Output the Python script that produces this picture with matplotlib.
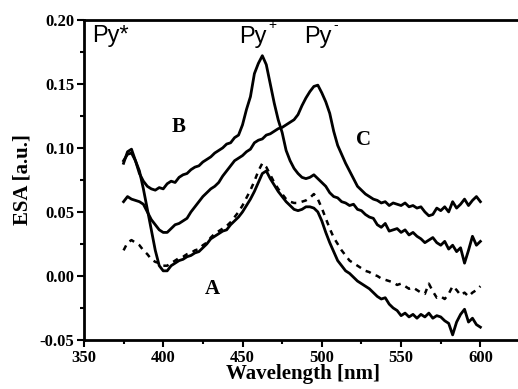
import numpy as np
import matplotlib
matplotlib.use("Agg")
import matplotlib.pyplot as plt
from matplotlib.ticker import MultipleLocator

wavelength = np.linspace(375, 600, 91)

esa_B = [0.088, 0.097, 0.099, 0.090, 0.080, 0.074, 0.070, 0.068, 0.067, 0.069,
         0.068, 0.072, 0.074, 0.073, 0.077, 0.079, 0.080, 0.083, 0.085, 0.086,
         0.089, 0.091, 0.093, 0.096, 0.098, 0.100, 0.103, 0.104, 0.108, 0.110,
         0.118, 0.130, 0.140, 0.158, 0.166, 0.172, 0.165, 0.150, 0.135, 0.122,
         0.112, 0.098, 0.090, 0.084, 0.080, 0.077, 0.076, 0.077, 0.079, 0.076,
         0.073, 0.070, 0.065, 0.062, 0.061, 0.058, 0.057, 0.055, 0.056, 0.052,
         0.051, 0.048, 0.046, 0.045, 0.040, 0.038, 0.041, 0.035, 0.036, 0.037,
         0.034, 0.036, 0.032, 0.034, 0.031, 0.029, 0.026, 0.028, 0.030, 0.026,
         0.024, 0.027, 0.021, 0.024, 0.019, 0.022, 0.010, 0.020, 0.031, 0.024,
         0.027]

esa_C = [0.058, 0.062, 0.060, 0.059, 0.058, 0.056, 0.050, 0.044, 0.040, 0.036,
         0.034, 0.034, 0.037, 0.040, 0.041, 0.043, 0.045, 0.050, 0.054, 0.058,
         0.062, 0.065, 0.068, 0.070, 0.073, 0.078, 0.082, 0.086, 0.090, 0.092,
         0.094, 0.097, 0.099, 0.104, 0.106, 0.107, 0.110, 0.111, 0.113, 0.115,
         0.116, 0.118, 0.120, 0.122, 0.126, 0.133, 0.139, 0.144, 0.148, 0.149,
         0.143, 0.136, 0.127, 0.113, 0.102, 0.095, 0.088, 0.082, 0.076, 0.070,
         0.067, 0.064, 0.062, 0.060, 0.059, 0.057, 0.058, 0.055, 0.057, 0.056,
         0.055, 0.057, 0.054, 0.055, 0.053, 0.054, 0.050, 0.047, 0.048, 0.053,
         0.051, 0.054, 0.050, 0.058, 0.053, 0.056, 0.060, 0.055, 0.059, 0.062,
         0.058]

esa_A = [0.090, 0.095, 0.096, 0.090, 0.082, 0.068, 0.052, 0.036, 0.020, 0.008,
         0.004, 0.004, 0.008, 0.010, 0.012, 0.013, 0.015, 0.016, 0.018, 0.019,
         0.022, 0.025, 0.029, 0.031, 0.033, 0.035, 0.036, 0.040, 0.043, 0.046,
         0.050, 0.055, 0.060, 0.066, 0.073, 0.080, 0.082, 0.076, 0.071, 0.066,
         0.062, 0.058, 0.055, 0.052, 0.051, 0.052, 0.054, 0.054, 0.053, 0.050,
         0.043, 0.034, 0.026, 0.019, 0.012, 0.008, 0.004, 0.002, -0.001, -0.004,
         -0.006, -0.008, -0.010, -0.013, -0.016, -0.018, -0.017, -0.022, -0.025, -0.027,
         -0.031, -0.029, -0.032, -0.030, -0.033, -0.030, -0.032, -0.029, -0.033, -0.031,
         -0.032, -0.035, -0.037, -0.046, -0.036, -0.030, -0.026, -0.036, -0.033, -0.038,
         -0.040]

esa_dashed = [0.020, 0.026, 0.028, 0.026, 0.024, 0.020, 0.017, 0.013, 0.011, 0.010,
              0.008, 0.008, 0.010, 0.012, 0.014, 0.015, 0.017, 0.018, 0.020, 0.021,
              0.024, 0.026, 0.030, 0.033, 0.035, 0.037, 0.039, 0.042, 0.046, 0.050,
              0.055, 0.061, 0.067, 0.074, 0.082, 0.088, 0.085, 0.079, 0.073, 0.068,
              0.064, 0.060, 0.058, 0.057, 0.057, 0.058, 0.059, 0.061, 0.064, 0.060,
              0.053, 0.045, 0.037, 0.030, 0.025, 0.020, 0.016, 0.012, 0.010, 0.008,
              0.006, 0.004, 0.003, 0.001, 0.000, -0.002, -0.003, -0.004, -0.005, -0.007,
              -0.006, -0.008, -0.010, -0.009, -0.011, -0.013, -0.014, -0.006, -0.012, -0.017,
              -0.016, -0.018, -0.014, -0.008, -0.011, -0.015, -0.013, -0.016, -0.013, -0.011,
              -0.008]

serif = ["Liberation Serif", "DejaVu Serif"]
sans = ["Liberation Sans", "DejaVu Sans"]

fig = plt.figure(figsize=(5.18, 3.89), dpi=100)
ax = fig.add_axes([0.162, 0.126, 0.845, 0.823])

ax.plot(wavelength, esa_B, color="black", lw=2.0)
ax.plot(wavelength, esa_C, color="black", lw=2.0)
ax.plot(wavelength, esa_A, color="black", lw=2.0)
ax.plot(wavelength, esa_dashed, color="black", lw=1.8, linestyle=(0, (2.2, 2.2)))

ax.set_xlim(350, 626)
ax.set_ylim(-0.05, 0.20)
ax.xaxis.set_minor_locator(MultipleLocator(25))
ax.yaxis.set_minor_locator(MultipleLocator(0.025))
ax.set_yticks([-0.05, 0.0, 0.05, 0.10, 0.15, 0.20])
ax.set_yticklabels(["-0.05", "0.00", "0.05", "0.10", "0.15", "0.20"])
ax.set_xticks([350, 400, 450, 500, 550, 600])
ax.set_xticklabels(["350", "400", "450", "500", "550", "600"])

ax.tick_params(which="major", direction="out", length=5, width=1.5, pad=2)
ax.tick_params(which="minor", direction="out", length=3, width=1.5)
for lab in ax.get_xticklabels() + ax.get_yticklabels():
    lab.set_fontfamily(serif)
    lab.set_fontweight("bold")
    lab.set_fontsize(12)
for s in ax.spines.values():
    s.set_linewidth(2)

ax.set_xlabel("Wavelength [nm]", family=serif, fontweight="bold", fontsize=15, labelpad=-1)
ax.set_ylabel("ESA [a.u.]", family=serif, fontweight="bold", fontsize=15, labelpad=5)

ax.text(355, 0.183, "Py*", family=sans, fontsize=17, va="baseline", ha="left")
ax.text(448, 0.182, "Py", family=sans, fontsize=17, va="baseline", ha="left")
ax.text(466.5, 0.193, "+", family=sans, fontsize=10, va="baseline", ha="left")
ax.text(489, 0.182, "Py", family=sans, fontsize=17, va="baseline", ha="left")
ax.text(507.5, 0.193, "-", family=sans, fontsize=10, va="baseline", ha="left")

ax.text(410, 0.116, "B", family=serif, fontweight="bold", fontsize=15, ha="center", va="center")
ax.text(526, 0.106, "C", family=serif, fontweight="bold", fontsize=15, ha="center", va="center")
ax.text(431, -0.010, "A", family=serif, fontweight="bold", fontsize=15, ha="center", va="center")

fig.savefig("out.png", dpi=100)
